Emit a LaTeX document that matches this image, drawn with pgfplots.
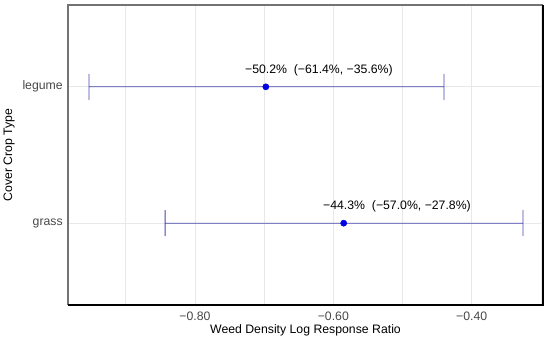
\documentclass[border=0pt]{standalone}
\usepackage{fontspec}
\setmainfont{Liberation Sans}
\usepackage{pgfplots}
\pgfplotsset{compat=1.18}
\definecolor{errcA}{RGB}{70,70,175}
\definecolor{errcB}{RGB}{71,71,176}
\definecolor{ptcA}{RGB}{0,0,225}
\definecolor{ptcB}{RGB}{0,0,224}
\definecolor{gridc}{RGB}{232,232,232}
\newcommand{\lf}{\fontsize{9.2}{11}\selectfont}
\pgfplotsset{
  cishape/.style={fill=#1, draw=none, mark=none},
  cipoint/.style={only marks, mark=*, mark size=2.3pt, draw=#1, fill=#1,
    mark options={draw=#1, fill=#1}}}
\begin{document}
\begin{tikzpicture}
\path[use as bounding box] (-51pt,-25.5pt) rectangle (361.5pt,228.75pt);
\begin{axis}[
  scale only axis, width=356.25pt, height=225pt,
  xmin=-0.9834, xmax=-0.297, ymin=0.4, ymax=2.6,
  xtick={-0.8,-0.6,-0.4}, xticklabels={−0.80,−0.60,−0.40},
  minor xtick={-0.9,-0.7,-0.5,-0.3},
  ytick={1,2}, yticklabels={grass,legume},
  grid=both,
  major grid style={gridc, line width=0.6pt},
  minor grid style={gridc, line width=0.6pt},
  major tick length=0pt, minor tick length=0pt,
  axis line style={draw=none},
  tick label style={font=\lf, text=black!72},
  xticklabel style={anchor=center, inner sep=0pt, yshift=-8.25pt},
  yticklabel style={anchor=east, inner sep=0pt, xshift=-3.75pt},
  clip=false,
]
% legume: CI [-0.953, -0.440] at y=2, caps of half-height 0.095
\addplot[cishape=errcA] coordinates {
  (-0.9536,1.905) (-0.9524,1.905) (-0.9524,1.997) (-0.4406,1.997)
  (-0.4406,1.905) (-0.4394,1.905) (-0.4394,2.095) (-0.4406,2.095)
  (-0.4406,2.003) (-0.9524,2.003) (-0.9524,2.095) (-0.9536,2.095)
  (-0.9536,1.905)};
% grass: CI [-0.843, -0.326] at y=1
\addplot[cishape=errcB] coordinates {
  (-0.8436,0.905) (-0.8424,0.905) (-0.8424,0.997) (-0.3266,0.997)
  (-0.3266,0.905) (-0.3254,0.905) (-0.3254,1.095) (-0.3266,1.095)
  (-0.3266,1.003) (-0.8424,1.003) (-0.8424,1.095) (-0.8436,1.095)
  (-0.8436,0.905)};
% estimates
\addplot[cipoint=ptcA] coordinates {(-0.6975,2)};
\addplot[cipoint=ptcB] coordinates {(-0.585,1)};
\node[anchor=base west, inner sep=0pt, font=\lf, xshift=-15.75pt, yshift=10pt]
  at (axis cs:-0.6975,2) {−50.2\%\ \ (−61.4\%, −35.6\%)};
\node[anchor=base west, inner sep=0pt, font=\lf, xshift=-15.6pt, yshift=10.5pt]
  at (axis cs:-0.585,1) {−44.3\%\ \ (−57.0\%, −27.8\%)};
\draw[black!55, line width=0.8pt] (rel axis cs:0,0) -- (rel axis cs:0,1) -- (rel axis cs:1,1);
\draw[black, line width=1pt] (rel axis cs:0,0) -- (rel axis cs:1,0) -- (rel axis cs:1,1);
\end{axis}
\node[font=\lf, anchor=center] at (178.125pt,-18.75pt) {Weed Density Log Response Ratio};
\node[font=\lf, rotate=90, anchor=center] at (-44.25pt,112.5pt) {Cover Crop Type};
\end{tikzpicture}
\end{document}
